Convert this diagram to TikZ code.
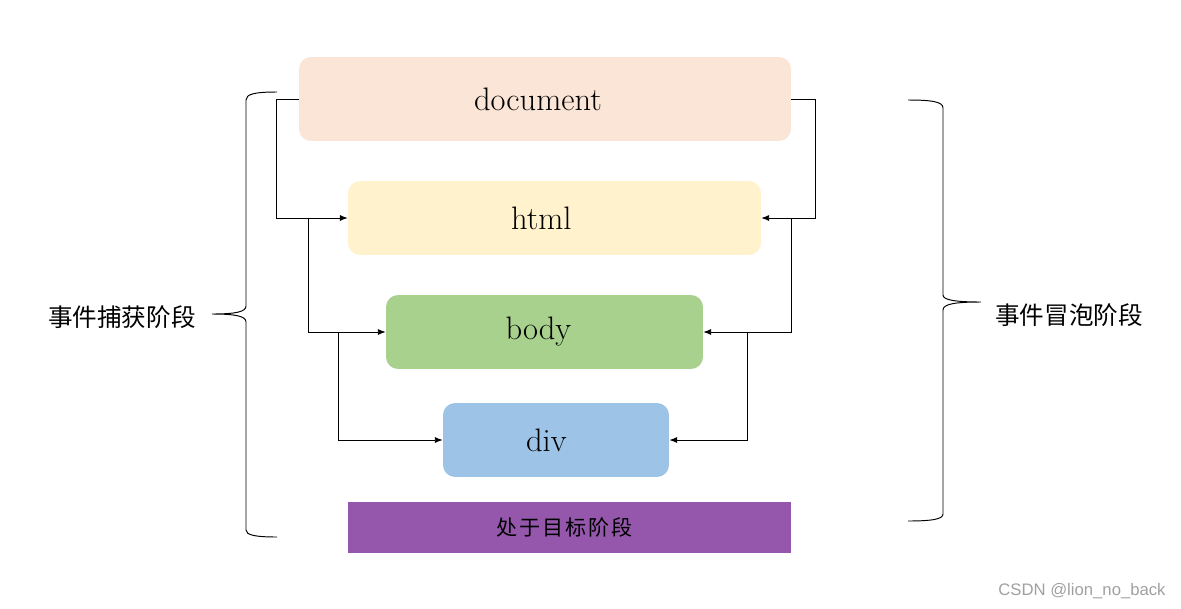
\documentclass[tikz,border=0pt]{standalone}
\usepackage{fontspec}
\newfontfamily\cjk{Noto Sans CJK SC}
\setsansfont{Liberation Sans}
\usetikzlibrary{arrows.meta}
\definecolor{docfill}{HTML}{FBE5D6}
\definecolor{htmlfill}{HTML}{FFF2CC}
\definecolor{bodyfill}{HTML}{A9D18E}
\definecolor{divfill}{HTML}{9DC3E6}
\definecolor{targetfill}{HTML}{9457AB}
\definecolor{markgray}{HTML}{A0A0A0}

\begin{document}
\begin{tikzpicture}[x=0.02cm,y=-0.02cm,
	box/.style={rounded corners=0.24cm, minimum height=1.48cm, inner sep=0pt, font=\fontsize{18.5}{22}\selectfont},
	link/.style={-{Latex[length=4.5pt,width=3.5pt]}, line width=0.55pt},
	phase/.style={font=\cjk\fontsize{14}{16}\selectfont}]
		%%%%% START %%%%%
		\useasboundingbox (0,0) rectangle (1181,609);
		
		\node[box, fill=docfill, minimum width=9.84cm, minimum height=1.68cm] (doc) at (545,99) {document\kern8pt};
		\node[box, fill=htmlfill, minimum width=8.26cm] (html) at (554.5,218) {html\kern15pt};
		\node[box, fill=bodyfill, minimum width=6.34cm] (body) at (544.5,332) {body\kern7pt};
		\node[box, fill=divfill, minimum width=4.52cm] (div) at (556,440) {div\kern11pt};
		\node[fill=targetfill, minimum width=8.86cm, minimum height=1.02cm, inner sep=0pt, font=\cjk\fontsize{12}{14}\selectfont] (target) at (569.5,527.5) {\raisebox{-1.5pt}{处\kern1pt 于\kern1pt 目\kern1pt 标\kern1pt 阶\kern1pt 段}\kern5.6pt};
		
		% capture side
		\coordinate (l1) at (276,0);
		\coordinate (l2) at (308,0);
		\coordinate (l3) at (338,0);
		\draw[link] (doc.west) -- (doc.west -| l1) |- (html.west);
		\draw[link] (html.west -| l2) |- (body.west);
		\draw[link] (body.west -| l3) |- (div.west);
		
		% bubble side
		\coordinate (r1) at (815,0);
		\coordinate (r2) at (791,0);
		\coordinate (r3) at (747,0);
		\draw[link] (doc.east) -- (doc.east -| r1) |- (html.east);
		\draw[link] (html.east -| r2) |- (body.east);
		\draw[link] (body.east -| r3) |- (div.east);
		
		% braces
		\draw[line width=0.55pt] (277,92) .. controls (255,92) and (246,94) .. (246,100) -- (246,306)
			.. controls (246,312) and (235,314) .. (212,314)
			.. controls (235,314) and (246,316) .. (246,322) -- (246,530)
			.. controls (246,535) and (255,537) .. (277,537);
		\draw[line width=0.55pt] (908,100) .. controls (933,100) and (943,102) .. (943,108) -- (943,295)
			.. controls (943,300) and (955,302) .. (981,302)
			.. controls (955,302) and (943,304) .. (943,310) -- (943,514)
			.. controls (943,519) and (933,521) .. (908,521);
		
		\node[phase] (capture) at (122,317) {事件捕获阶段};
		\node[phase] (bubble) at (1069,315) {事件冒泡阶段};
		
		\node[text=markgray, font=\sffamily\fontsize{9.5}{11}\selectfont] (mark) at (1082,591) {CSDN @lion\_no\_back};
		%%%%% END %%%%%
\end{tikzpicture}
\end{document}
